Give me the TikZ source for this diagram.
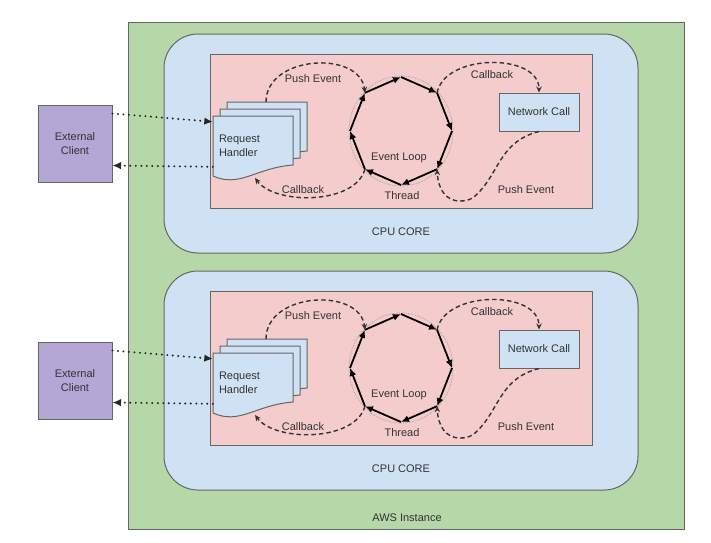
\documentclass[tikz,border=0pt]{standalone}
\usepackage{fontspec}
\setmainfont{Liberation Sans}
\usepackage{xcolor}
\usetikzlibrary{arrows.meta}

\definecolor{awsgreen}{HTML}{B6D7A8}
\definecolor{coreblue}{HTML}{CFE2F3}
\definecolor{looppink}{HTML}{F4CCCC}
\definecolor{clientpurple}{HTML}{B4A7D6}
\definecolor{edgegray}{HTML}{666666}
\definecolor{textgray}{HTML}{333333}

\tikzset{
    box/.style={draw=edgegray, line width=1pt, inner sep=0pt},
    txt/.style={text=textgray, font=\fontsize{11}{13.5}\selectfont, inner sep=1pt},
    sheet/.style={draw=edgegray, line width=1pt, fill=coreblue},
    flow/.style={-{Stealth[length=6pt,width=5.5pt]}, draw=black!80, line width=1.4pt, dash pattern=on 4.5pt off 3pt},
    request/.style={-{Latex[length=8.5pt,width=7.5pt]}, draw=black!85, line width=2.2pt, line cap=round, dash pattern=on 0pt off 5.5pt},
    loopedge/.style={-{Latex[length=8pt,width=7pt]}, line width=1.8pt},
}

\begin{document}
\begin{tikzpicture}[x=1pt, y=-1pt] % pixel grid, y grows downwards
                        \useasboundingbox (0,0) rectangle (711,542);

                        % AWS instance around both cores
                        \node[box, fill=awsgreen, minimum width=556pt, minimum height=507pt] (aws) at (406,275.5) {};
                        \node[txt] (awslabel) at (407,518) {AWS Instance};

                        \foreach \i/\dy in {1/0, 2/237} {
                            % CPU core with its event loop area
                            \node[box, fill=coreblue, rounded corners=34pt, minimum width=474pt, minimum height=219pt] (core\i) at (401,143.5+\dy) {};
                            \node[txt] (corelabel\i) at (401,232+\dy) {CPU CORE};
                            \node[box, fill=looppink, minimum width=382pt, minimum height=154pt] (loopbox\i) at (401,131+\dy) {};

                            % client outside the instance
                            \node[box, fill=clientpurple, txt, align=center, minimum width=74pt, minimum height=77pt] (client\i) at (75,143.5+\dy) {External\\Client};

                            % stack of request sheets, back to front
                            \foreach \s in {14,7,0}
                                \draw[sheet] (213+\s,116-\s+\dy) -- (293+\s,116-\s+\dy) -- (293+\s,165-\s+\dy)
                                    .. controls (255+\s,168-\s+\dy) and (240+\s,188-\s+\dy) .. (213+\s,176-\s+\dy) -- cycle;
                            \node[txt, text width=68pt, align=left, minimum width=80pt, minimum height=60pt, inner xsep=6pt, inner ysep=0pt] (handler\i) at (253,146+\dy) {Request\\Handler};
                            \coordinate (stack\i) at (266,102+\dy);
                            \coordinate (wave\i) at (255,178+\dy);

                            \node[box, fill=coreblue, txt, minimum width=80pt, minimum height=38pt] (netcall\i) at (539,112+\dy) {Network Call};

                            % event loop thread as an octagon
                            \coordinate (loop\i) at (401,131+\dy);
                            \draw[gray!70, densely dotted, line width=0.8pt] (loop\i) ellipse (52 and 55);
                            \foreach \k in {0,...,7}
                                \coordinate (v\i-\k) at ({401+51*cos(-90+45*\k)},{131+\dy+54*sin(-90+45*\k)});
                            \foreach \k/\n in {0/1,1/2,2/3,3/4,4/5,5/6,6/7,7/0}
                                \draw[loopedge] (v\i-\k) -- (v\i-\n);
                            \node[txt] (looplabel\i) at (399,158+\dy) {Event Loop};
                            \node[txt] (threadlabel\i) at (402,196+\dy) {Thread};

                            % requests in and out
                            \draw[request] ([yshift=-9pt]client\i.north east) -- ([yshift=-6pt]handler\i.north west);
                            \draw[request] ([yshift=-51pt]handler\i.north west) -- ([yshift=-61pt]client\i.north east);

                            % events and callbacks
                            \draw[flow] (stack\i) .. controls (266,55+\dy) and (360,50+\dy) .. (v\i-7);
                            \node[txt] (pushlabel\i) at (313,79+\dy) {Push Event};
                            \draw[flow] (v\i-1) .. controls (445,53+\dy) and (539,53+\dy) .. (netcall\i.north);
                            \node[txt] (cblabel\i) at (492,75+\dy) {Callback};
                            \draw[flow] (netcall\i.south) .. controls (505,140+\dy) and (500,165+\dy) .. (485,185+\dy)
                                .. controls (475,198+\dy) and (470,201+\dy) .. (460,201+\dy)
                                .. controls (445,201+\dy) and (438,188+\dy) .. (v\i-3);
                            \node[txt] (pushbacklabel\i) at (526,190+\dy) {Push Event};
                            \draw[flow] (v\i-5) .. controls (355,205+\dy) and (275,205+\dy) .. (wave\i);
                            \node[txt] (cbbacklabel\i) at (303,190+\dy) {Callback};
                        }
                    \end{tikzpicture}
\end{document}
